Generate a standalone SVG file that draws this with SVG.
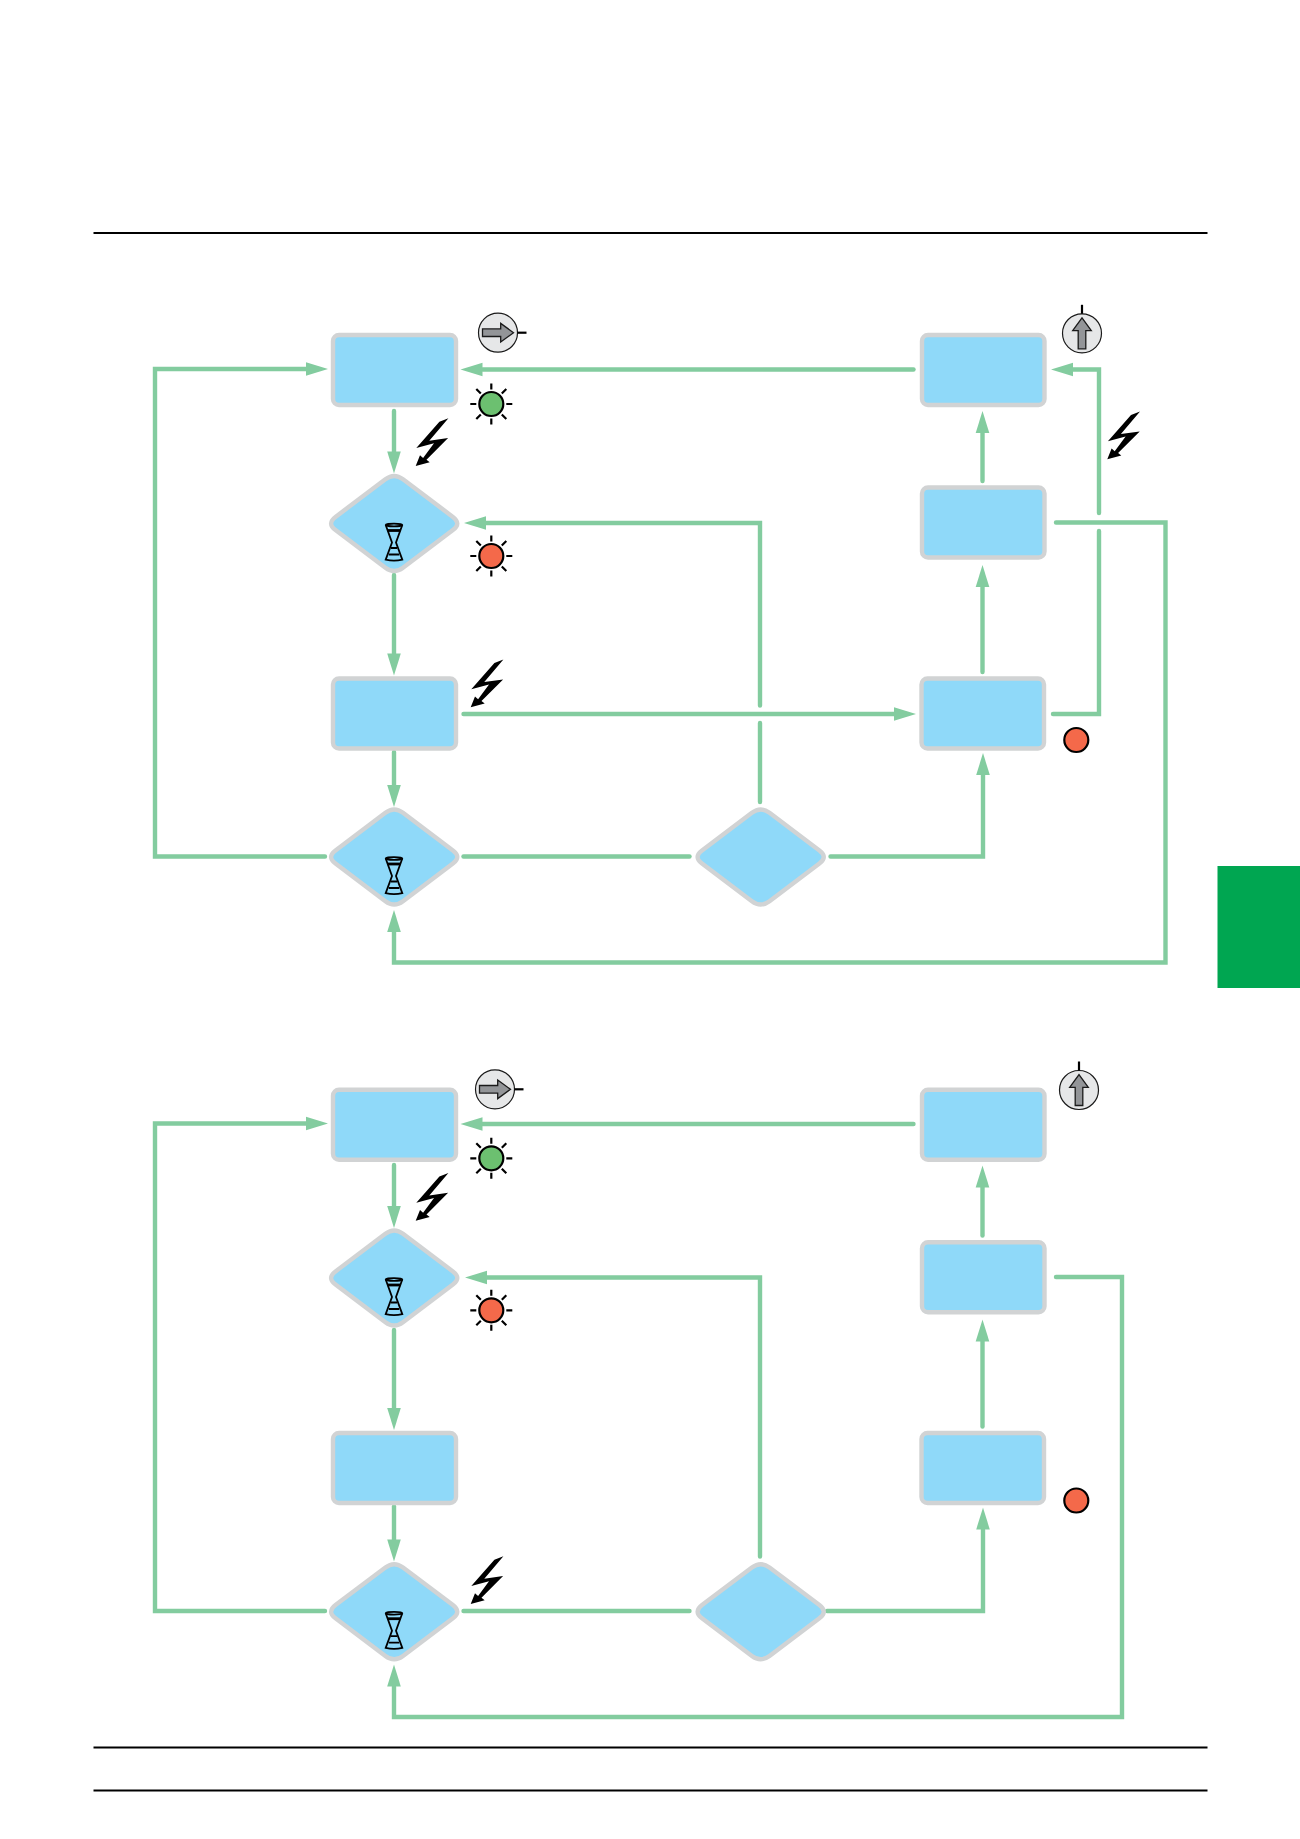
<svg xmlns="http://www.w3.org/2000/svg" xmlns:xlink="http://www.w3.org/1999/xlink" width="1300" height="1839" viewBox="0 0 1300 1839">
  <style>
    .bg { fill: #ffffff; }
    .rule { stroke: #000000; stroke-width: 2; fill: none; }
    .tab { fill: #00a651; }
    .box, .dec { fill: #8fd9f9; stroke: #d1d3d4; stroke-width: 4.4; }
    .flow { fill: none; stroke: #83cc9f; stroke-width: 4.4; stroke-linecap: round; stroke-linejoin: miter; }
    .flow.arrow { marker-end: url(#head); }
    .head { fill: #83cc9f; }
    .tick { stroke: #000000; stroke-width: 2.2; fill: none; }
    .lamp { stroke: #000000; stroke-width: 2.2; }
    .on { fill: #6cc070; }
    .alarm { fill: #f4694a; }
    .dial { fill: #e6e7e8; stroke: #1a1a1a; stroke-width: 1.2; }
    .pointer { fill: #939598; stroke: #1a1a1a; stroke-width: 1.3; }
    .glass { fill: none; stroke: #000000; stroke-width: 1.8; }
  </style>
  <defs>
    <marker id="head" markerUnits="userSpaceOnUse" markerWidth="24" markerHeight="14" refX="0" refY="7" orient="auto" overflow="visible">
      <path class="head" d="M0,0.2 L22,7 L0,13.8 Z"/>
    </marker>
    <path id="diamond" d="M-8.8,-44.2 Q0,-50.8 8.8,-44.2 L58.7,-6.6 Q67.5,0 58.7,6.6 L8.8,44.2 Q0,50.8 -8.8,44.2 L-58.7,6.6 Q-67.5,0 -58.7,-6.6 Z"/>
    <!-- lightning bolt, origin at its arrow tip -->
    <path id="bolt" d="M32.7,-47.7 L23.7,-44.3 L0.6,-18 L18.3,-22.7 L7.4,-8 L4.3,-10.8 L0,0 L14,-3.7 L10.8,-6.2 L32.4,-27.9 L13.6,-25.3 Z" fill="#000000"/>
    <!-- lamp rays around a lamp at the origin -->
    <g id="rays" class="tick">
      <path d="M0,-20.5V-14.5M0,14.5V20.5M-21,0H-15M15,0H21M-15,-15L-10.5,-10.5M15,-15L10.5,-10.5M-15,15L-10.5,10.5M15,15L10.5,10.5"/>
    </g>
    <!-- hourglass, origin at top centre -->
    <g id="hourglass" class="glass">
      <ellipse cx="0" cy="1.5" rx="8.3" ry="1.4"/>
      <path d="M-8.3,1.5 L-2,19 L-8.3,36.2 Q0,38.2 8.3,36.2 L2,19 L8.3,1.5"/>
      <path d="M-6.3,7H6.3" stroke-width="2.8"/>
      <path d="M-3,24.5H3M-5.2,31H5.2"/>
    </g>
    <!-- selector dial, origin at the centre, pointer to the right -->
    <g id="dial">
      <circle class="dial" cx="0" cy="0" r="19.5"/>
      <path class="pointer" d="M-15.5,-3.8 H2.7 V-9.3 L15.5,0 L2.7,9.3 V3.8 H-15.5 Z"/>
      <path d="M19.5,0H28.5" stroke="#000000" stroke-width="2.2"/>
    </g>
  </defs>

  <rect class="bg" x="0" y="0" width="1300" height="1839"/>
  <path class="rule" d="M93.5,233H1207.5"/>
  <path class="rule" d="M93.5,1747.5H1207.5"/>
  <path class="rule" d="M93.5,1790.5H1207.5"/>
  <rect class="tab" x="1217.5" y="866" width="82.5" height="122"/>

  <g id="connectors">
    <!-- upper chart -->
    <path class="flow arrow" d="M913.5,369.5H482.5"/>
    <path class="flow arrow" d="M394,411V451.5"/>
    <path class="flow arrow" d="M760,705.5V523H486"/>
    <path class="flow" d="M760,802V723"/>
    <path class="flow arrow" d="M394,575V653.5"/>
    <path class="flow arrow" d="M394,752V785"/>
    <path class="flow arrow" d="M463.5,714H894"/>
    <path class="flow" d="M463.5,856.5H689.5"/>
    <path class="flow arrow" d="M830.5,856.5H983V775"/>
    <path class="flow arrow" d="M325,856.5H155V369H306"/>
    <path class="flow arrow" d="M982.5,672V587"/>
    <path class="flow arrow" d="M982.5,481V433"/>
    <path class="flow" d="M1053,714H1099V531"/>
    <path class="flow arrow" d="M1099,513V369.5H1073"/>
    <path class="flow arrow" d="M1056,522.5H1165.5V962.5H394V932"/>
    <!-- lower chart -->
    <path class="flow arrow" d="M913.5,1124H482.5"/>
    <path class="flow arrow" d="M394,1165V1206"/>
    <path class="flow arrow" d="M760,1556.5V1277.5H487"/>
    <path class="flow arrow" d="M394,1330V1408"/>
    <path class="flow arrow" d="M394,1506.5V1539.5"/>
    <path class="flow" d="M463.5,1611H689.5"/>
    <path class="flow arrow" d="M827,1611H983V1529.5"/>
    <path class="flow arrow" d="M325,1611H155V1123.5H306"/>
    <path class="flow arrow" d="M982.5,1426.5V1341.5"/>
    <path class="flow arrow" d="M982.5,1235.5V1187.5"/>
    <path class="flow arrow" d="M1056,1277H1122V1717H394V1686.5"/>
  </g>

  <!-- upper chart nodes -->
  <g id="n1"><rect class="box" x="333" y="335" width="123" height="70" rx="6"/></g>
  <g id="n2"><use class="dec" xlink:href="#diamond" href="#diamond" x="394.2" y="523.5"/><use xlink:href="#hourglass" href="#hourglass" x="394" y="523.5"/></g>
  <g id="n3"><rect class="box" x="333" y="678.5" width="123" height="70" rx="6"/></g>
  <g id="n4"><use class="dec" xlink:href="#diamond" href="#diamond" x="394.2" y="857"/><use xlink:href="#hourglass" href="#hourglass" x="394" y="857"/></g>
  <g id="n5"><use class="dec" xlink:href="#diamond" href="#diamond" x="760.7" y="857"/></g>
  <g id="n6"><rect class="box" x="922" y="335" width="122.5" height="70" rx="6"/></g>
  <g id="n7"><rect class="box" x="922" y="487.5" width="122.5" height="70" rx="6"/></g>
  <g id="n8"><rect class="box" x="921.5" y="678.5" width="122.5" height="70" rx="6"/></g>

  <g id="dial-left-upper"><use xlink:href="#dial" href="#dial" x="498" y="332.7"/></g>
  <g id="dial-up-upper"><use xlink:href="#dial" href="#dial" transform="translate(1082,333.3) rotate(-90)"/></g>
  <g id="lamp-green-upper"><use xlink:href="#rays" href="#rays" x="491.3" y="404"/><circle class="lamp on" cx="491.3" cy="404" r="12"/></g>
  <g id="lamp-red-upper"><use xlink:href="#rays" href="#rays" x="491.3" y="556"/><circle class="lamp alarm" cx="491.3" cy="556" r="12"/></g>
  <g id="lamp-fault-upper"><circle class="lamp alarm" cx="1076.3" cy="740" r="12"/></g>
  <g id="bolts-upper">
    <use xlink:href="#bolt" href="#bolt" x="415.7" y="466"/>
    <use xlink:href="#bolt" href="#bolt" x="1107.3" y="459.3"/>
    <use xlink:href="#bolt" href="#bolt" x="470.7" y="707.3"/>
  </g>

  <!-- lower chart nodes -->
  <g id="m1"><rect class="box" x="333" y="1089.7" width="123" height="70" rx="6"/></g>
  <g id="m2"><use class="dec" xlink:href="#diamond" href="#diamond" x="394.2" y="1278"/><use xlink:href="#hourglass" href="#hourglass" x="394" y="1278"/></g>
  <g id="m3"><rect class="box" x="333" y="1433" width="123" height="70" rx="6"/></g>
  <g id="m4"><use class="dec" xlink:href="#diamond" href="#diamond" x="394.2" y="1611.7"/><use xlink:href="#hourglass" href="#hourglass" x="394" y="1611.7"/></g>
  <g id="m5"><use class="dec" xlink:href="#diamond" href="#diamond" x="760.7" y="1611.7"/></g>
  <g id="m6"><rect class="box" x="922" y="1089.7" width="122.5" height="70" rx="6"/></g>
  <g id="m7"><rect class="box" x="922" y="1242.3" width="122.5" height="70" rx="6"/></g>
  <g id="m8"><rect class="box" x="921.5" y="1433" width="122.5" height="70" rx="6"/></g>

  <g id="dial-left-lower"><use xlink:href="#dial" href="#dial" x="495" y="1089.3"/></g>
  <g id="dial-up-lower"><use xlink:href="#dial" href="#dial" transform="translate(1079,1090) rotate(-90)"/></g>
  <g id="lamp-green-lower"><use xlink:href="#rays" href="#rays" x="491.3" y="1158.3"/><circle class="lamp on" cx="491.3" cy="1158.3" r="12"/></g>
  <g id="lamp-red-lower"><use xlink:href="#rays" href="#rays" x="491.3" y="1310.3"/><circle class="lamp alarm" cx="491.3" cy="1310.3" r="12"/></g>
  <g id="lamp-fault-lower"><circle class="lamp alarm" cx="1076.3" cy="1500.5" r="12"/></g>
  <g id="bolts-lower">
    <use xlink:href="#bolt" href="#bolt" x="415.7" y="1220.7"/>
    <use xlink:href="#bolt" href="#bolt" x="470.7" y="1604"/>
  </g>
</svg>
